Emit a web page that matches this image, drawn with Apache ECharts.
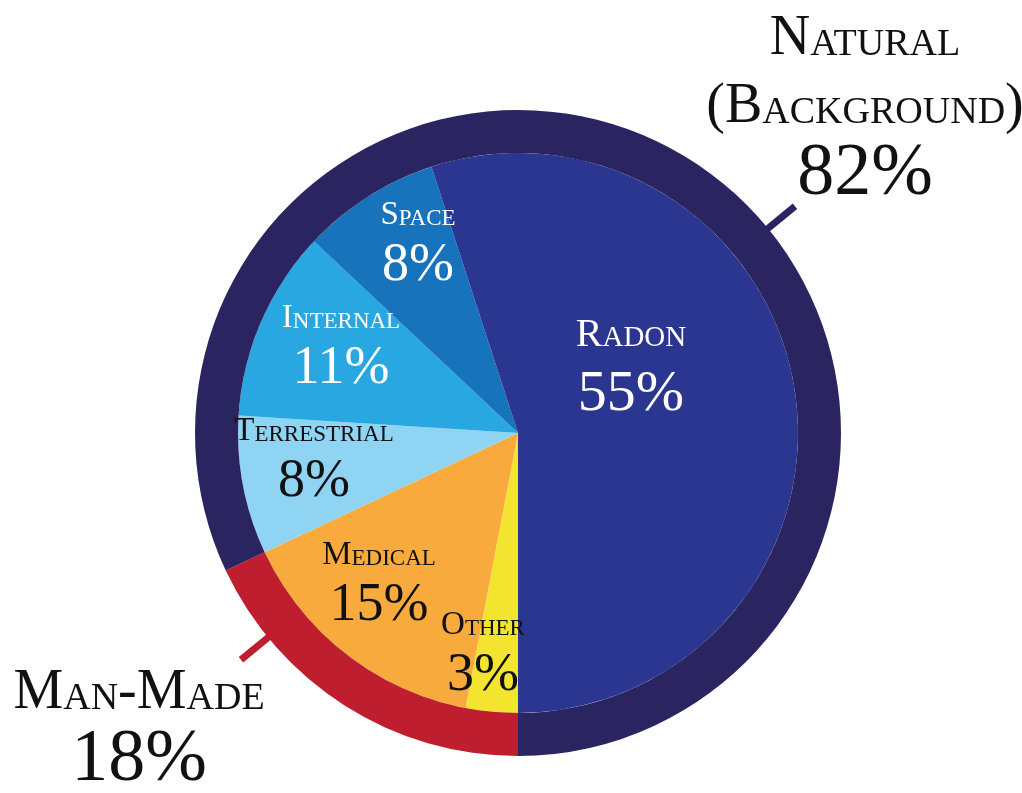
<!DOCTYPE html>
<html>
<head>
<meta charset="utf-8">
<script src="https://cdn.jsdelivr.net/npm/echarts@6/dist/echarts.min.js"></script>
<style>
  html, body { margin: 0; padding: 0; background: #ffffff; }
  #chart { width: 1022px; height: 793px; }
</style>
</head>
<body>
<div id="chart"></div>
<script>
// ---- data ----
const sourceNames = ['Other', 'Medical', 'Terrestrial', 'Internal', 'Space', 'Radon'];
const sourceValues = [3, 15, 8, 11, 8, 55];
const groupNames = ['Man-Made', 'Natural (Background)'];
const groupValues = [18, 82];

// ---- styling / layout ----
const sourceColors = ['#f3e52f', '#f8aa3d', '#8fd4f3', '#29a7e0', '#1773bc', '#2b3690'];
const groupColors = ['#be1e2e', '#2a2461'];
const sourceTextColors = ['#111111', '#111111', '#111111', '#ffffff', '#ffffff', '#ffffff'];
const LARGE_LABELS = ['Radon'];
const CENTER = [518, 433];
const INNER_R = 280, OUTER_R = 323;
const SOURCE_LABEL_POS = [[483, 656], [379, 586], [314, 462], [341, 349], [418, 246], [631, 369]];
const GROUP_LABEL_POS = [[139, 727], [865, 107]];
const LEADER_ANGLES = [-140.7, 39.3]; // degrees, counterclockwise from 3 o'clock
const LEADER_R = [318, 358];
const FONT = "'Liberation Serif', 'DejaVu Serif', serif";

function smallCaps(word, capStyle, scStyle) {
  let out = '';
  let i = 0;
  while (i < word.length) {
    const ch = word[i];
    const isBig = (ch !== ch.toLowerCase()) || !/[a-z]/i.test(ch);
    let j = i;
    let chunk = '';
    while (j < word.length) {
      const c = word[j];
      const big = (c !== c.toLowerCase()) || !/[a-z]/i.test(c);
      if (big !== isBig) break;
      chunk += c;
      j++;
    }
    out += '{' + (isBig ? capStyle : scStyle) + '|' + chunk.toUpperCase() + '}';
    i = j;
  }
  return out;
}

function leaderPoints(idx) {
  const a = LEADER_ANGLES[idx] * Math.PI / 180;
  return LEADER_R.map(r => [CENTER[0] + r * Math.cos(a), CENTER[1] - r * Math.sin(a)]);
}

const innerData = sourceNames.map((n, i) => ({
  name: n,
  value: sourceValues[i],
  itemStyle: { color: sourceColors[i] },
  label: { color: sourceTextColors[i] }
}));
const ringData = groupNames.map((n, i) => ({
  name: n,
  value: groupValues[i],
  itemStyle: { color: groupColors[i] },
  labelLine: { lineStyle: { color: groupColors[i] } }
}));

const chart = echarts.init(document.getElementById('chart'), null, { renderer: 'canvas' });
chart.setOption({
  backgroundColor: '#ffffff',
  animation: false,
  series: [
    {
      type: 'pie',
      center: CENTER,
      radius: [0, INNER_R],
      startAngle: 270,
      clockwise: true,
      avoidLabelOverlap: false,
      silent: true,
      emphasis: { disabled: true },
      data: innerData,
      label: {
        show: true,
        position: 'inside',
        fontFamily: FONT,
        align: 'center',
        formatter: p => {
          const big = LARGE_LABELS.indexOf(p.name) >= 0;
          const s = big ? 'L' : 'S';
          return smallCaps(p.name, 'cap' + s, 'sc' + s) + '\n{pct' + s + '|' + p.value + '%}';
        },
        rich: {
          capL: { fontFamily: FONT, fontSize: 40, lineHeight: 52, verticalAlign: 'bottom' },
          scL: { fontFamily: FONT, fontSize: 29, lineHeight: 52, verticalAlign: 'bottom', padding: [0, 0, 2, 0] },
          pctL: { fontFamily: FONT, fontSize: 58, lineHeight: 80 },
          capS: { fontFamily: FONT, fontSize: 33, lineHeight: 40, verticalAlign: 'bottom' },
          scS: { fontFamily: FONT, fontSize: 23, lineHeight: 40, verticalAlign: 'bottom', padding: [0, 0, 2, 0] },
          pctS: { fontFamily: FONT, fontSize: 54, lineHeight: 68 }
        }
      },
      labelLine: { show: false },
      labelLayout: p => ({
        x: SOURCE_LABEL_POS[p.dataIndex][0],
        y: SOURCE_LABEL_POS[p.dataIndex][1],
        align: 'center',
        verticalAlign: 'middle'
      })
    },
    {
      type: 'pie',
      center: CENTER,
      radius: [INNER_R, OUTER_R],
      startAngle: 270,
      clockwise: true,
      avoidLabelOverlap: false,
      silent: true,
      emphasis: { disabled: true },
      data: ringData,
      label: {
        show: true,
        position: 'outside',
        color: '#111111',
        fontFamily: FONT,
        align: 'center',
        formatter: p => {
          const words = p.name.split(' ').map(w => smallCaps(w, 'cap', 'sc'));
          return words.join('\n') + '\n{pct|' + p.value + '%}';
        },
        rich: {
          cap: { fontFamily: FONT, fontSize: 56, lineHeight: 68, verticalAlign: 'bottom' },
          sc: { fontFamily: FONT, fontSize: 38, lineHeight: 68, verticalAlign: 'bottom', padding: [0, 0, 3, 0] },
          pct: { fontFamily: FONT, fontSize: 74, lineHeight: 80 }
        }
      },
      labelLine: { show: true, length: 20, length2: 0, lineStyle: { width: 7, cap: 'butt' } },
      labelLayout: p => ({
        x: GROUP_LABEL_POS[p.dataIndex][0],
        y: GROUP_LABEL_POS[p.dataIndex][1],
        align: 'center',
        verticalAlign: 'middle',
        labelLinePoints: leaderPoints(p.dataIndex)
      })
    }
  ]
});
</script>
</body>
</html>
